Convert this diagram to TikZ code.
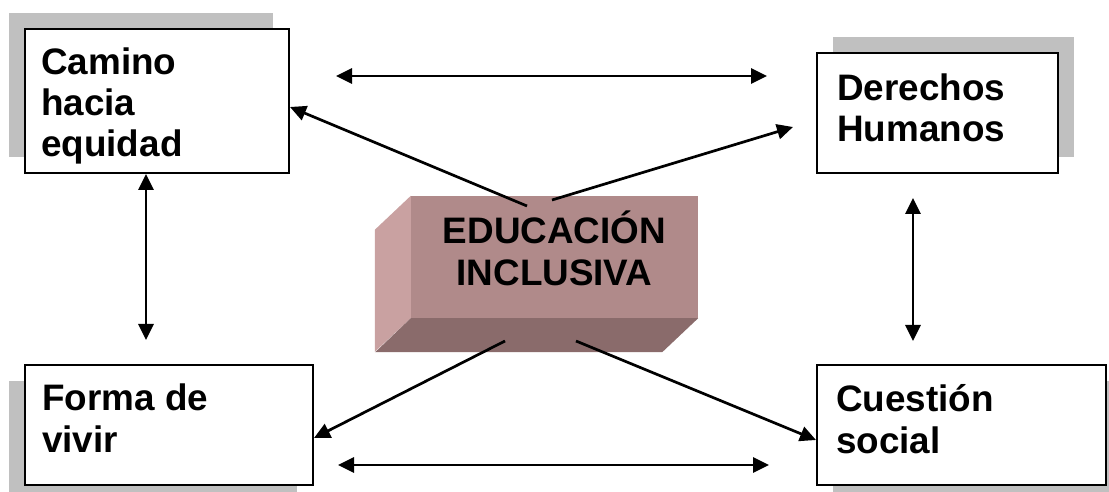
\documentclass[tikz,border=0pt]{standalone}
\usepackage{fontspec}
\setmainfont{Liberation Sans}
\usetikzlibrary{arrows.meta,calc}
\definecolor{shadowgray}{HTML}{C0C0C0}
\definecolor{brickfront}{HTML}{B08A8A}
\definecolor{brickside}{HTML}{C9A1A1}
\definecolor{brickbottom}{HTML}{8A6B6B}
\begin{document}
\begin{tikzpicture}[x=1bp,y=-1bp,
 box/.style={draw=black,line width=2bp,fill=white,inner sep=0pt},
 shadowbox/.style={fill=shadowgray,draw=none},
 lbl/.style={font=\fontsize{37}{41.5}\selectfont\bfseries,align=left,anchor=base west,inner sep=0pt},
 blbl/.style={font=\fontsize{37}{43}\selectfont\bfseries,align=center,anchor=base,inner sep=0pt},
 conn/.style={line width=2.7bp,-{Triangle[length=16bp,width=15bp]}},
 dconn/.style={line width=2.7bp,{Triangle[length=16bp,width=15bp]}-{Triangle[length=16bp,width=15bp]}}]
\useasboundingbox (0,0) rectangle (1109,492);
% shadows
\fill[shadowbox] (9,13) rectangle (273,157);
\fill[shadowbox] (833,37) rectangle (1074,157);
\fill[shadowbox] (9,381) rectangle (297,501);
\fill[shadowbox] (833,381) rectangle (1122,501);
% boxes
\node[box,minimum width=264bp,minimum height=144bp] (cam) at (157,101) {};
\node[box,minimum width=241bp,minimum height=120bp] (der) at (937.5,113) {};
\node[box,minimum width=288bp,minimum height=120bp] (for) at (169,425) {};
\node[box,minimum width=289bp,minimum height=120bp] (cue) at (961.5,425) {};
% texts (anchor = baseline of last line)
\begin{scope}
\clip (26,30) rectangle (288,164);
\node[lbl] (camtext) at (41,157) {Camino\\hacia\\equidad};
\end{scope}
\node[lbl] (dertext) at (837,142) {Derechos\\Humanos};
\node[lbl] (fortext) at (42,452) {Forma de\\vivir};
\node[lbl] (cuetext) at (836,453) {Cuestión\\social};
% brick
\node[fill=brickfront,draw=none,minimum width=287bp,minimum height=122bp,inner sep=0pt] (brick) at (554.5,257) {};
\fill[brickside] (brick.north west) -- ++(-36,34) -- ++(0,122) -- (brick.south west) -- cycle;
\fill[brickbottom] (brick.south west) -- (brick.south east) -- ++(-36,34) -- ++(-287,0) -- cycle;
\node[blbl] (bricktext) at (554.5,286) {EDUCACIÓN\\INCLUSIVA};
% connectors
\coordinate (ta) at (336,76);
\coordinate (tb) at (767,76);
\draw[dconn] (ta) -- (tb);
\coordinate (ba) at (338,465);
\coordinate (bb) at (769,465);
\draw[dconn] (ba) -- (bb);
\coordinate (lv) at (146,340);
\draw[dconn] (cam.south -| lv) -- (lv);
\coordinate (rva) at (913,198);
\coordinate (rvb) at (913,341);
\draw[dconn] (rva) -- (rvb);
\coordinate (d1) at (527,206);
\draw[conn] (d1) -- ($(cam.north east)+(0,79)$);
\coordinate (d2) at (552,200);
\coordinate (d2e) at (793,127);
\draw[conn] (d2) -- (d2e);
\coordinate (d3) at (505,341);
\draw[conn] (d3) -- ($(for.north east)+(0,74)$);
\coordinate (d4) at (576,341);
\draw[conn] (d4) -- ($(cue.north west)+(0,76)$);
\end{tikzpicture}
\end{document}
